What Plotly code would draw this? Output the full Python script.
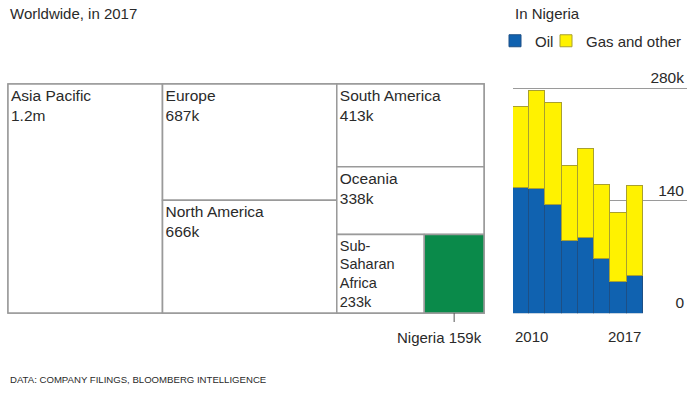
import plotly.graph_objects as go

# ---------------- data ----------------
# Worldwide, 2017 (thousands)
regions = ["Asia Pacific", "Europe", "North America", "South America",
           "Oceania", "Sub-Saharan Africa", "Nigeria"]
region_values = [1200, 687, 666, 413, 338, 233, 159]
region_display = ["Asia Pacific", "Europe", "North America", "South America",
                  "Oceania", "Sub-<br>Saharan<br>Africa", "Nigeria"]

# Nigeria by year (thousands)
years = [2010, 2011, 2012, 2013, 2014, 2015, 2016, 2017]
oil = [157, 155, 136, 90, 94, 68, 39, 47]
gas_other = [101, 123, 126, 94, 111, 92, 86, 112]

y_tick_vals = [0, 140, 280]
y_tick_text = ["0", "140", "280k"]

# ---------------- layout helpers ----------------
W, H = 695, 394
FONT = "Liberation Sans, Arial, sans-serif"
TXT = "#2a2a2a"


def px(x):
    return x / W


def py(y):
    return 1 - y / H


# grouping of regions into treemap columns (slice-dice)
columns = [["Asia Pacific"],
           ["Europe", "North America"],
           ["South America", "Oceania", ("Sub-Saharan Africa", "Nigeria")]]

val = dict(zip(regions, region_values))
disp = dict(zip(regions, region_display))


def fmt(v):
    return f"{v/1000:.1f}m" if v >= 1000 else f"{v}k"


def flat(col):
    out = []
    for it in col:
        if isinstance(it, tuple):
            out.extend(it)
        else:
            out.append(it)
    return out


total = sum(region_values)
ids, parents, vals, texts, colors = ["all"], [""], [total], [""], ["white"]


def add_leaf(r, parent):
    ids.append(r)
    parents.append(parent)
    vals.append(val[r])
    colors.append("#0a8a4a" if r == "Nigeria" else "white")
    texts.append("" if r == "Nigeria" else f"{disp[r]}<br>{fmt(val[r])}")


for ci, col in enumerate(columns):
    if len(col) == 1 and isinstance(col[0], str):
        add_leaf(col[0], "all")
        continue
    gid = f"col{ci}"
    ids.append(gid); parents.append("all"); vals.append(sum(val[r] for r in flat(col)))
    texts.append(""); colors.append("white")
    for it in col:
        if isinstance(it, tuple):
            sid = gid + "_sub"
            ids.append(sid); parents.append(gid); vals.append(sum(val[r] for r in it))
            texts.append(""); colors.append("white")
            for r in it:
                add_leaf(r, sid)
        else:
            add_leaf(it, gid)

# treemap domain (paper)
TX0, TX1 = px(8), px(484)
TY0, TY1 = py(313), py(84)

fig = go.Figure()
fig.add_trace(go.Treemap(
    ids=ids, labels=ids, parents=parents, values=vals,
    branchvalues="total", sort=False,
    text=texts, texttemplate="%{text}", textposition="top left",
    textfont=dict(family=FONT, size=15.5, color=TXT),
    marker=dict(colors=colors, depthfade=False,
                line=dict(color="#9a9a9a", width=1.5),
                pad=dict(t=0, l=0, r=0, b=0)),
    tiling=dict(packing="slice-dice", pad=0),
    pathbar=dict(visible=False),
    root=dict(color="white"),
    hoverinfo="skip",
    domain=dict(x=[TX0, TX1], y=[TY0, TY1]),
))

# Nigeria position (computed from values, slice-dice geometry)
col_sums = [sum(val[r] for r in flat(c)) for c in columns]
last = columns[-1]
sub = [it for it in last if isinstance(it, tuple)][0]
col_start = sum(col_sums[:-1]) / total
within = (val[sub[0]] + val[sub[1]] / 2) / (val[sub[0]] + val[sub[1]])
nig_x = TX0 + (TX1 - TX0) * (col_start + col_sums[-1] / total * within)
fig.add_shape(type="line", xref="paper", yref="paper",
              x0=nig_x, x1=nig_x, y0=TY0, y1=TY0 - 9 / H,
              line=dict(color="#555", width=1))
fig.add_annotation(xref="paper", yref="paper", x=TX1, y=py(337),
                   xanchor="right", yanchor="middle", showarrow=False,
                   text=f"Nigeria {fmt(val['Nigeria'])}",
                   font=dict(family=FONT, size=15, color=TXT))

# stacked bars (each series in its own legend box so the keys can be placed)
fig.add_trace(go.Bar(x=years, y=oil, name="Oil", width=1, legend="legend",
                     marker=dict(color="#1062b0", line=dict(color="#1d4f85", width=1)),
                     hoverinfo="skip"))
fig.add_trace(go.Bar(x=years, y=gas_other, name="Gas and other", width=1, legend="legend2",
                     marker=dict(color="#fff200", line=dict(color="#a8a030", width=1)),
                     hoverinfo="skip"))

fig.add_annotation(xref="x", yref="paper", x=years[0] - 0.5, y=py(336),
                   xanchor="left", yanchor="middle", showarrow=False,
                   text=str(years[0]), font=dict(family=FONT, size=15, color=TXT))
fig.add_annotation(xref="x", yref="paper", x=years[-1] + 0.5, y=py(336),
                   xanchor="right", yanchor="middle", showarrow=False,
                   text=str(years[-1]), font=dict(family=FONT, size=15, color=TXT))

# titles / footer
fig.add_annotation(xref="paper", yref="paper", x=px(8), y=py(13),
                   xanchor="left", yanchor="middle", showarrow=False,
                   text="Worldwide, in 2017", font=dict(family=FONT, size=15, color=TXT))
fig.add_annotation(xref="paper", yref="paper", x=px(513), y=py(13),
                   xanchor="left", yanchor="middle", showarrow=False,
                   text="In Nigeria", font=dict(family=FONT, size=15, color=TXT))
fig.add_annotation(xref="paper", yref="paper", x=px(8), y=py(379),
                   xanchor="left", yanchor="middle", showarrow=False,
                   text="DATA: COMPANY FILINGS, BLOOMBERG INTELLIGENCE",
                   font=dict(family=FONT, size=9.6, color=TXT))

# y axis geometry: 0 at 313.3px, 280 at 88.7px; extend range so top label fits
y0_px, y280_px = 313.3, 88.7
scale = (y0_px - y280_px) / 280
y_top = 305
top_px = y0_px - y_top * scale

legend_common = dict(orientation="h", yanchor="middle", xanchor="left",
                     font=dict(family=FONT, size=15, color=TXT),
                     bgcolor="rgba(0,0,0,0)", borderwidth=0,
                     itemclick=False, itemdoubleclick=False)

fig.update_layout(
    width=W, height=H, margin=dict(l=0, r=0, t=0, b=0),
    paper_bgcolor="white", plot_bgcolor="white",
    barmode="stack", bargap=0,
    font=dict(family=FONT, color=TXT),
    xaxis=dict(domain=[px(513), px(687)], range=[2009.5, 2020.23],
               showticklabels=False, showgrid=False, zeroline=False,
               showline=False, ticks="", fixedrange=True),
    yaxis=dict(domain=[py(y0_px), py(top_px)], range=[0, y_top],
               side="right", tickvals=y_tick_vals, ticktext=y_tick_text,
               ticklabelposition="inside top", ticks="",
               tickfont=dict(family=FONT, size=15.5, color=TXT),
               showgrid=True, gridcolor="#9a9a9a", gridwidth=1,
               zeroline=False, showline=False, fixedrange=True),
    legend=dict(x=px(495), y=py(41), **legend_common),
    legend2=dict(x=px(546), y=py(41), **legend_common),
    showlegend=True,
)

fig.write_html("out.html", config={"displayModeBar": False},
               post_script="document.body.style.margin='0';document.body.style.padding='0';")
